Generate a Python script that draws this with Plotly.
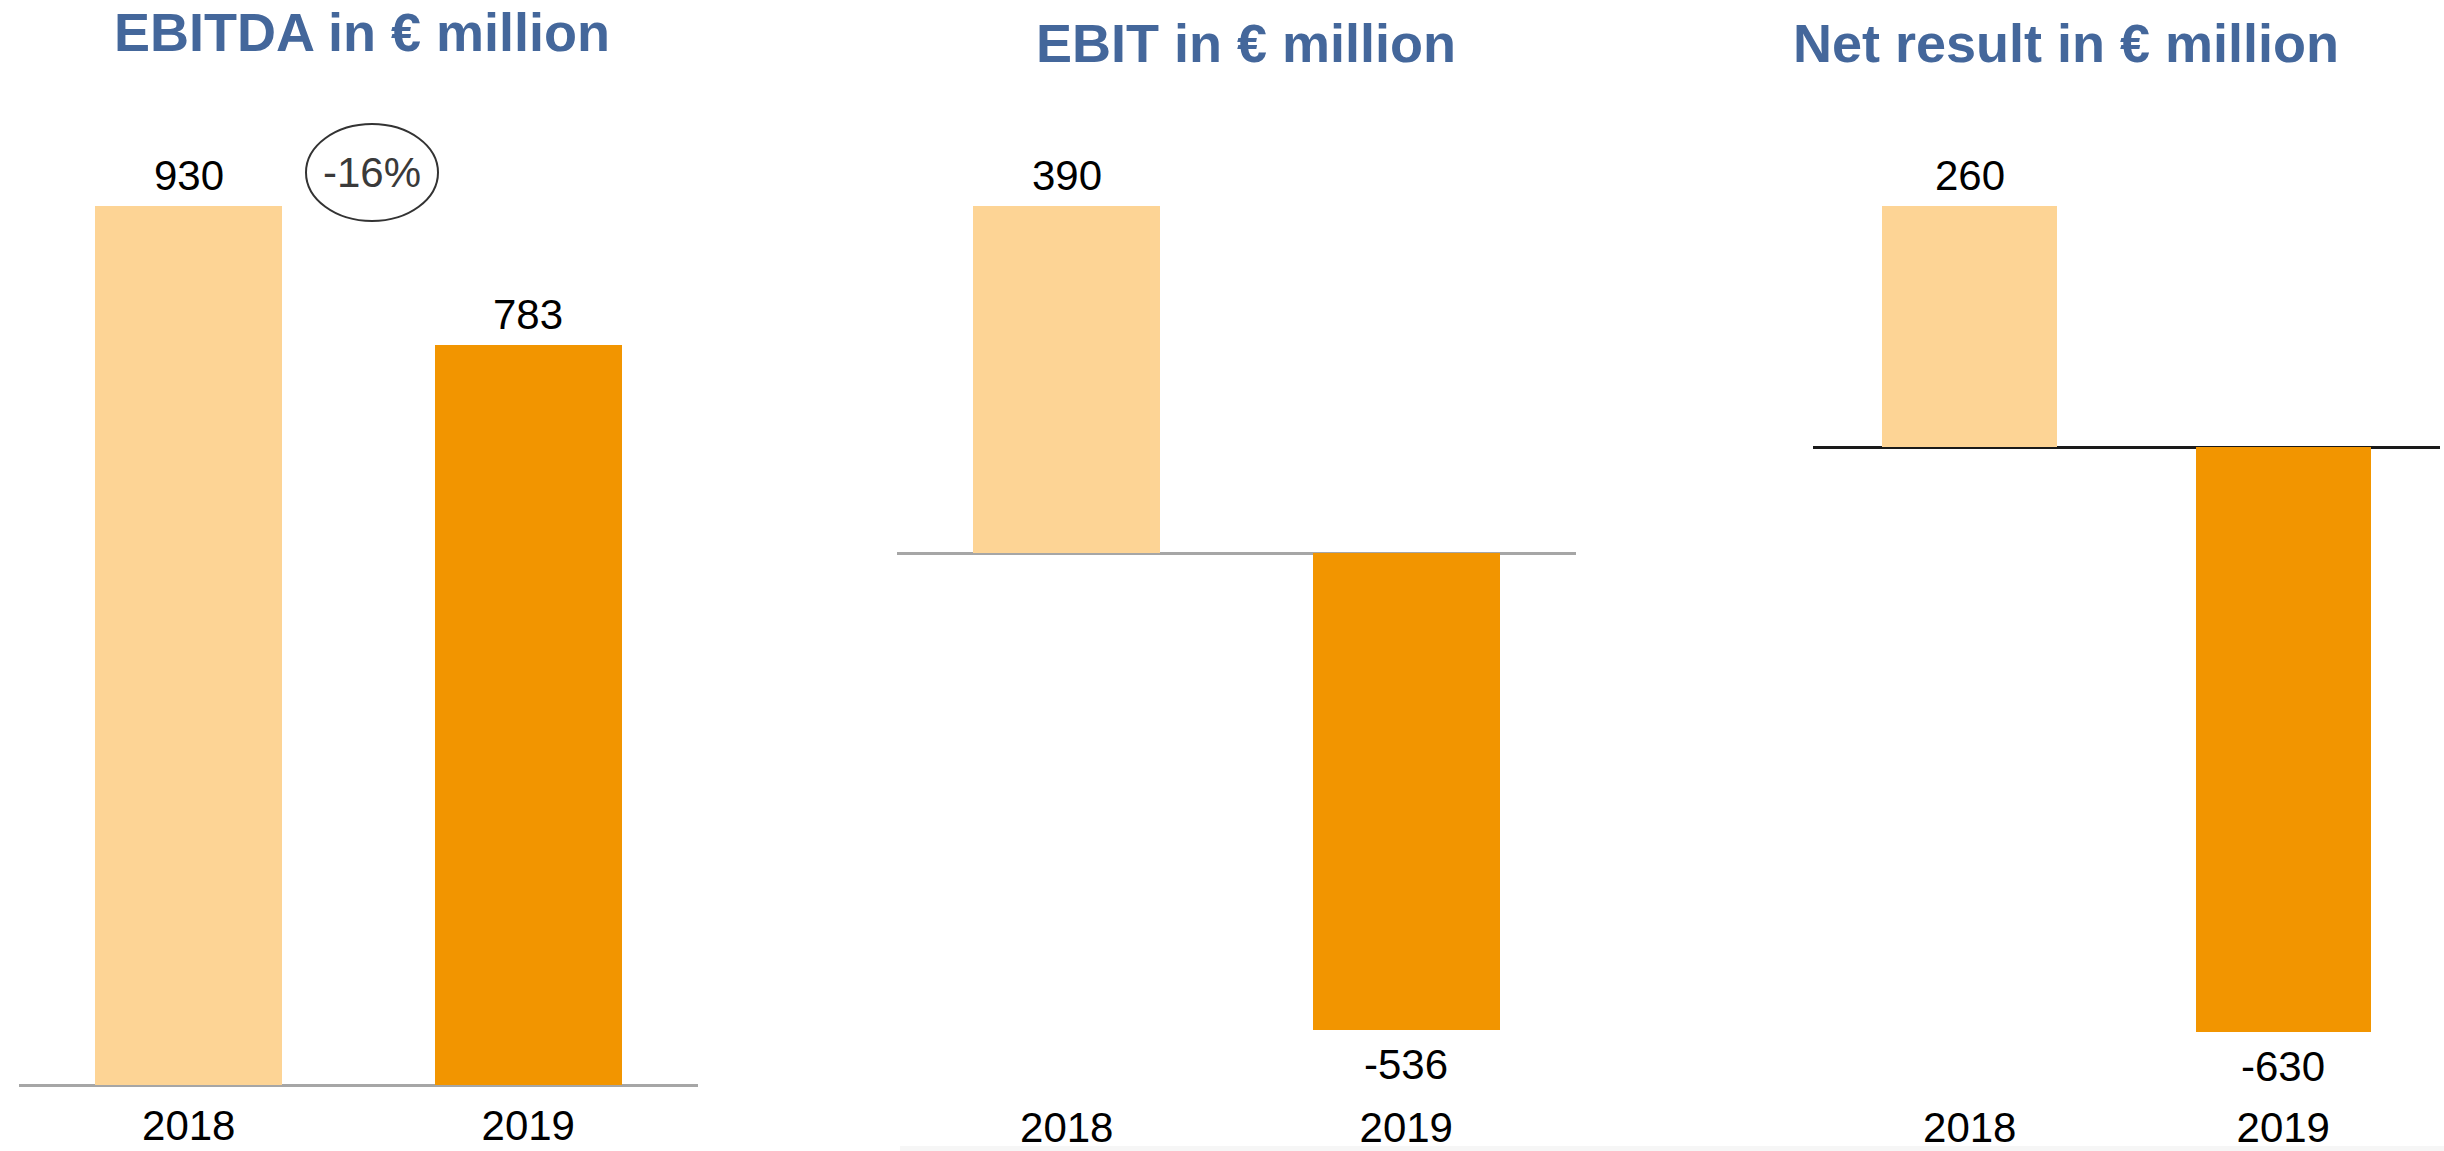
import plotly.graph_objects as go

# ---- data -------------------------------------------------------------
years = ["2018", "2019"]
ebitda = [930, 783]
ebit = [390, -536]
net_result = [260, -630]
titles = ["EBITDA in € million", "EBIT in € million", "Net result in € million"]
change_label = "-16%"

# ---- styling / layout constants (pixels) ------------------------------
W, H = 2444, 1151
FONT = "Liberation Sans, Arial, Helvetica, sans-serif"
TITLE_COLOR = "#44679B"
BAR_COLORS = ["#FDD495", "#F29500"]
PLOT_BOTTOM = 1095          # pixel row where every panel's plot area ends

# per panel: x extent, baseline row, pixels per unit, bar width, zero-line colour,
# title centre, tick label standoff
panels = [
    dict(values=ebitda, x0=19, x1=698, base=1085, scale=0.945, width=0.55,
         zcolor="#A6A6A6", tx=362, ty=32, standoff=2),
    dict(values=ebit, x0=897, x1=1576, base=553, scale=0.890, width=0.551,
         zcolor="#A6A6A6", tx=1246, ty=43, standoff=4),
    dict(values=net_result, x0=1813, x1=2440, base=447, scale=0.928, width=0.558,
         zcolor="#1A1A1A", tx=2066, ty=43, standoff=4),
]


def px_x(p):
    return p / W


def px_y(p):
    return 1 - p / H


fig = go.Figure()
annotations = []
layout_axes = {}

for i, (p, title) in enumerate(zip(panels, titles), start=1):
    xa = "x" if i == 1 else f"x{i}"
    ya = "y" if i == 1 else f"y{i}"
    fig.add_trace(go.Bar(
        x=years, y=p["values"], xaxis=xa, yaxis=ya,
        marker=dict(color=BAR_COLORS, line=dict(width=0)),
        width=p["width"], showlegend=False, hoverinfo="x+y",
    ))

    top_val = p["base"] / p["scale"]
    bot_val = -(PLOT_BOTTOM - p["base"]) / p["scale"]
    key = "" if i == 1 else str(i)
    layout_axes[f"xaxis{key}"] = dict(
        domain=[px_x(p["x0"]), px_x(p["x1"])], range=[-0.5, 1.5],
        type="category", anchor=ya, showgrid=False, showline=False,
        zeroline=False, ticks="", automargin=False,
        tickfont=dict(family=FONT, size=42, color="#000000"),
        ticklabelstandoff=p["standoff"], fixedrange=True,
    )
    layout_axes[f"yaxis{key}"] = dict(
        domain=[1 - PLOT_BOTTOM / H, 1], range=[bot_val, top_val], anchor=xa,
        showgrid=False, showline=False, showticklabels=False, ticks="",
        automargin=False, zeroline=True, zerolinecolor=p["zcolor"],
        zerolinewidth=3, fixedrange=True,
    )

    # panel title
    annotations.append(dict(
        text=f"<b>{title}</b>", x=px_x(p["tx"]), y=px_y(p["ty"]), xref="paper", yref="paper",
        xanchor="center", yanchor="middle", showarrow=False,
        font=dict(family=FONT, size=54, color=TITLE_COLOR),
    ))

    # value labels at the end of each bar (category index as x position)
    for j, v in enumerate(p["values"]):
        annotations.append(dict(
            text=f"{v}", x=j, y=v, xref=xa, yref=ya,
            xanchor="center", yanchor="bottom" if v >= 0 else "top",
            yshift=5 if v >= 0 else -9, showarrow=False,
            font=dict(family=FONT, size=42, color="#000000"),
        ))

# change marker between the EBITDA bars
annotations.append(dict(
    text=change_label, x=px_x(372), y=px_y(173), xref="paper", yref="paper",
    xanchor="center", yanchor="middle", showarrow=False,
    font=dict(family=FONT, size=42, color="#3A3A3A"),
))

shapes = [
    dict(type="circle", xref="paper", yref="paper",
         x0=px_x(306), x1=px_x(438), y0=px_y(221), y1=px_y(124),
         line=dict(color="#333333", width=2), fillcolor="rgba(0,0,0,0)"),
    # faint shadow along the lower edge
    dict(type="rect", xref="paper", yref="paper", x0=px_x(900), x1=1, y0=0, y1=px_y(1146),
         line=dict(width=0), fillcolor="rgba(0,0,0,0.035)", layer="below"),
]

fig.update_layout(
    template="none",
    width=W, height=H,
    margin=dict(l=0, r=0, t=0, b=0, pad=0, autoexpand=False),
    paper_bgcolor="#FFFFFF", plot_bgcolor="rgba(0,0,0,0)",
    bargap=0, font=dict(family=FONT),
    annotations=annotations, shapes=shapes,
    **layout_axes,
)

fig.write_html("out.html", config=dict(displayModeBar=False))
